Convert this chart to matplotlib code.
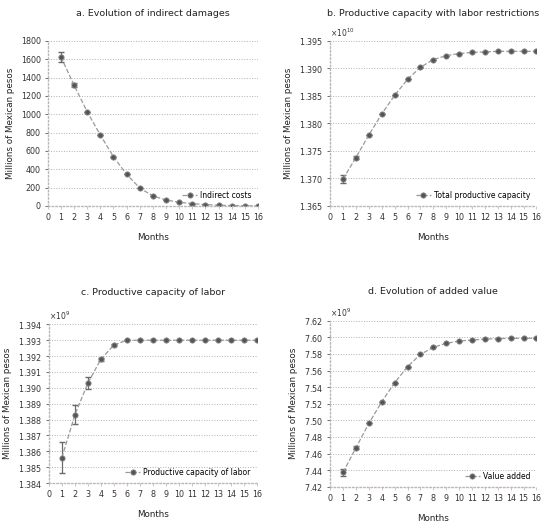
import matplotlib
matplotlib.use("Agg")
import matplotlib.pyplot as plt
from matplotlib.ticker import ScalarFormatter, MultipleLocator

months = list(range(1, 17))

indirect_costs = [1625, 1317, 1027, 773, 537, 345, 196, 109, 65, 40, 25, 15, 8, 4, 2, 1]
indirect_err = [55, 20, 0, 0, 0, 0, 0, 0, 0, 0, 0, 0, 0, 0, 0, 0]

total_capacity = [1.3699, 1.3738, 1.3779, 1.3817, 1.3851, 1.3880, 1.3902, 1.3916,
                  1.3923, 1.3927, 1.3929, 1.3930, 1.3931, 1.3931, 1.3931, 1.3931]
total_capacity_err = [0.0008, 0.0003, 0, 0, 0, 0, 0, 0, 0, 0, 0, 0, 0, 0, 0, 0]

labor_capacity = [1.3856, 1.3883, 1.3903, 1.3918, 1.3927, 1.3930, 1.3930, 1.3930,
                  1.3930, 1.3930, 1.3930, 1.3930, 1.3930, 1.3930, 1.3930, 1.3930]
labor_capacity_err = [0.00096, 0.0006, 0.0004, 0.0001, 0.00005, 0, 0, 0, 0, 0, 0, 0, 0, 0, 0, 0]

value_added = [7.4373, 7.4670, 7.4963, 7.5224, 7.5453, 7.5646, 7.5794, 7.5879,
               7.5927, 7.5955, 7.5967, 7.5978, 7.5984, 7.5987, 7.5988, 7.5988]
value_added_err = [0.0046, 0.002, 0, 0, 0, 0, 0, 0, 0, 0, 0, 0, 0, 0, 0, 0]

plt.rcParams["font.family"] = ["DejaVu Sans"]

fig = plt.figure(figsize=(5.43, 5.24), dpi=100)

panels = [
    # rect, title, data, err, scale, ylim, ystep, legend label, title pad
    ([0.088, 0.607, 0.387, 0.315], "a. Evolution of indirect damages",
     indirect_costs, indirect_err, 1, (0, 1800), 200, "Indirect costs", 18),
    ([0.608, 0.607, 0.380, 0.315], "b. Productive capacity with labor restrictions",
     total_capacity, total_capacity_err, 1e10, (1.365, 1.395), 0.005, "Total productive capacity", 18),
    ([0.090, 0.078, 0.383, 0.303], "c. Productive capacity of labor",
     labor_capacity, labor_capacity_err, 1e9, (1.384, 1.394), 0.001, "Productive capacity of labor", 21),
    ([0.608, 0.071, 0.380, 0.317], "d. Evolution of added value",
     value_added, value_added_err, 1e9, (7.42, 7.62), 0.02, "Value added", 19),
]

for rect, title, vals, err, scale, ylim, ystep, label, pad in panels:
    ax = fig.add_axes(rect)
    y = [v * scale for v in vals]
    e = [v * scale for v in err]
    ax.errorbar(months, y, yerr=e, fmt="none", ecolor="#6a6a6a", elinewidth=0.9, capsize=2)
    ax.plot(months, y, color="#9a9a9a", linestyle="--", linewidth=0.9,
            marker="o", markersize=3.8, markerfacecolor="#555555",
            markeredgecolor="#8a8a8a", markeredgewidth=0.6, label=label)
    ax.set_xlim(0, 16)
    ax.set_xticks(range(0, 17))
    ax.set_ylim(ylim[0] * scale, ylim[1] * scale)
    ax.yaxis.set_major_locator(MultipleLocator(ystep * scale))
    if scale != 1:
        fmt = ScalarFormatter(useMathText=True, useOffset=False)
        fmt.set_scientific(True)
        fmt.set_powerlimits((0, 0))
        ax.yaxis.set_major_formatter(fmt)
        ax.yaxis.get_offset_text().set_fontsize(5.5)
        ax.yaxis.get_offset_text().set_color("#444444")
    ax.grid(axis="y", linestyle=":", color="#b0b0b0", linewidth=0.7)
    for s in ("top", "right"):
        ax.spines[s].set_visible(False)
    for s in ("left", "bottom"):
        ax.spines[s].set_color("#b8b8b8")
        ax.spines[s].set_linestyle(":")
        ax.spines[s].set_linewidth(1.0)
    ax.tick_params(labelsize=5.8, colors="#333333", length=2, width=0.5, pad=3)
    ax.tick_params(axis="x", color="#e0a0a0")
    ax.set_title(title, fontsize=6.8, pad=pad, color="#222222")
    ax.set_xlabel("Months", fontsize=6.3, labelpad=8, color="#222222")
    ax.set_ylabel("Millions of Mexican pesos", fontsize=6.3, labelpad=4, color="#222222")
    ax.legend(loc="lower right", frameon=False, fontsize=5.5, handlelength=2,
              handletextpad=0.4, borderaxespad=0.4)

fig.savefig("out.png", dpi=100)
